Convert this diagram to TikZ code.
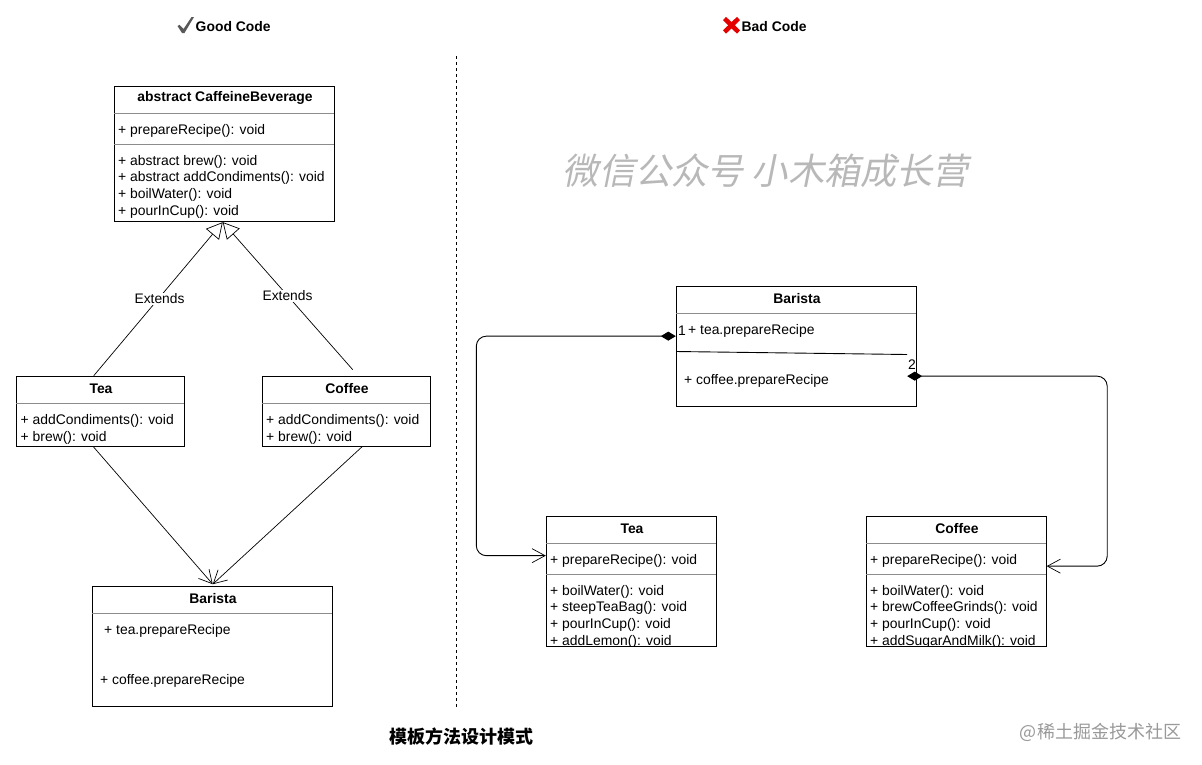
\documentclass[tikz,border=0pt]{standalone}
\usepackage{fontspec}
\setmainfont{Liberation Sans}
\newfontfamily\cjk{Noto Sans CJK SC}
\newfontfamily\cjkslant[FakeSlant=0.2]{Noto Sans CJK SC}
\usetikzlibrary{arrows.meta}
\tikzset{
 classbox/.style={draw, line width=0.9pt, anchor=north west, inner sep=0pt, xshift=-0.7pt, yshift=0.3pt},
 sepline/.style={draw=black!45, line width=0.9pt, xshift=-0.7pt},
 headtext/.style={font=\fontsize{13.9}{15}\bfseries\selectfont, inner sep=0pt, yshift=-0.4pt},
 rowtext/.style={font=\fontsize{13.9}{15}\selectfont, anchor=west, inner sep=0pt, yshift=-2pt},
 linktext/.style={font=\fontsize{13.8}{15}\selectfont, fill=white, inner sep=1.2pt, yshift=-0.8pt},
 inherit/.style={line width=0.7pt, -{Triangle[length=16pt,width=17pt,fill=white]}},
 uses/.style={line width=0.7pt, -{Straight Barb[length=13pt,width=14pt]}},
 owns/.style={line width=0.9pt, rounded corners=10pt, {Diamond[length=15pt,width=9pt]}-{Straight Barb[length=13pt,width=14pt,line width=0.7pt]}}
}
\begin{document}
\begin{tikzpicture}[x=1pt,y=-1pt]
 \useasboundingbox (0,0) rectangle (1202,764);
 % headings
 \fill[black!65] (177.5,26) -- (179.5,24.8) -- (183.5,29) -- (191.5,17) -- (194,17) -- (184.5,33) -- (182,33) -- cycle;
 \node[headtext, anchor=west] (goodhead) at (195.5,26) {Good Code};
 \draw[red!90!black, line width=4.5pt] (724.5,18.5) -- (738.5,32) (738.5,18.5) -- (724.5,32);
 \node[headtext, anchor=west] (badhead) at (741.5,26) {Bad Code};
 \draw[dashed, line width=0.7pt] (456.5,56) -- (456.5,707);
 \node[text=black!28, font=\fontsize{36.2}{38}\cjkslant\selectfont] (mark) at (766,171) {微信公众号 小木箱成长营};
 \node[font=\fontsize{18}{20}\cjk\bfseries\selectfont] (caption) at (461,736.5) {模板方法设计模式};
 \node[text=black!40, font=\fontsize{18}{20}\cjk\selectfont] (site) at (1100.5,732) {@稀土掘金技术社区};

 % good code, left side
 \node[classbox, minimum width=220pt, minimum height=135.5pt] (cafbox) at (114.5,86) {};
 \draw[sepline] (114.5,113.5) -- (334.5,113.5) (114.5,144.5) -- (334.5,144.5);
 \node[headtext] (cafhead) at (225,98) {abstract CaffeineBeverage};
 \node[rowtext] (cafprep) at (118,129) {+ prepareRecipe(): void};
 \node[rowtext] (cafbrew) at (118,160) {+ abstract brew(): void};
 \node[rowtext] (cafcond) at (118,176) {+ abstract addCondiments(): void};
 \node[rowtext] (cafboil) at (118,193) {+ boilWater(): void};
 \node[rowtext] (cafpour) at (118,210) {+ pourInCup(): void};

 \node[classbox, minimum width=168pt, minimum height=70pt] (teabox) at (17,376) {};
 \draw[sepline] (17,403) -- (185,403);
 \node[headtext] (teahead) at (101,388) {Tea};
 \node[rowtext] (teacond) at (20.5,419) {+ addCondiments(): void};
 \node[rowtext] (teabrew) at (20.5,436) {+ brew(): void};

 \node[classbox, minimum width=168pt, minimum height=70pt] (cofbox) at (262.5,376) {};
 \draw[sepline] (262.5,403) -- (430.5,403);
 \node[headtext] (cofhead) at (347,388) {Coffee};
 \node[rowtext] (cofcond) at (266,419) {+ addCondiments(): void};
 \node[rowtext] (cofbrew) at (266,436) {+ brew(): void};

 \node[classbox, minimum width=240pt, minimum height=120.5pt] (barbox) at (92.5,586) {};
 \draw[sepline] (92.5,613) -- (332.5,613);
 \node[headtext] (barhead) at (213,598) {Barista};
 \node[rowtext] (bartea) at (104,629) {+ tea.prepareRecipe};
 \node[rowtext] (barcof) at (100,679) {+ coffee.prepareRecipe};

 \draw[inherit] ([xshift=-7pt]teabox.north) -- ([xshift=-1.5pt]cafbox.south);
 \draw[inherit] ([xshift=6.5pt,yshift=6pt]cofbox.north) -- ([xshift=-1.5pt]cafbox.south);
 \node[linktext] (extone) at (159.5,298) {Extends};
 \node[linktext] (exttwo) at (287.5,295) {Extends};
 \draw[uses] ([xshift=-7.5pt]teabox.south) -- ([xshift=0.5pt,yshift=1.5pt]barbox.north);
 \draw[uses] ([xshift=16pt]cofbox.south) -- ([xshift=0.5pt,yshift=1.5pt]barbox.north);

 % bad code, right side
 \node[classbox, minimum width=240pt, minimum height=119.5pt] (mainbox) at (676.5,286.5) {};
 \draw[sepline] (676.5,313.5) -- (916.5,313.5);
 \draw[line width=0.9pt] (676,351.5) -- (907,354.5);
 \node[headtext] (mainhead) at (797,298) {Barista};
 \node[rowtext] (mainone) at (678,329) {1};
 \node[rowtext] (maintea) at (688,329) {+ tea.prepareRecipe};
 \node[rowtext] (maincof) at (684,379) {+ coffee.prepareRecipe};
 \node[rowtext] (maintwo) at (908,362.5) {2};

 \node[classbox, minimum width=170.5pt, minimum height=130pt] (blackbox) at (546.5,516.5) {};
 \draw[sepline] (546.5,543.5) -- (717,543.5) (546.5,574.5) -- (717,574.5);
 \node[headtext] (blackhead) at (632,528) {Tea};
 \node[rowtext] (blackprep) at (550,559) {+ prepareRecipe(): void};
 \begin{scope}
  \clip (546,516.5) rectangle (716.5,646.5);
  \node[rowtext] (blackboil) at (550,590) {+ boilWater(): void};
  \node[rowtext] (blacksteep) at (550,606) {+ steepTeaBag(): void};
  \node[rowtext] (blackpour) at (550,623) {+ pourInCup(): void};
  \node[rowtext] (blacklemon) at (550,640) {+ addLemon(): void};
 \end{scope}

 \node[classbox, minimum width=180pt, minimum height=130pt] (dripbox) at (866.5,516.5) {};
 \draw[sepline] (866.5,543.5) -- (1046.5,543.5) (866.5,574.5) -- (1046.5,574.5);
 \node[headtext] (driphead) at (957,528) {Coffee};
 \node[rowtext] (dripprep) at (870,559) {+ prepareRecipe(): void};
 \begin{scope}
  \clip (866,516.5) rectangle (1046,646.5);
  \node[rowtext] (dripboil) at (870,590) {+ boilWater(): void};
  \node[rowtext] (dripgrind) at (870,606) {+ brewCoffeeGrinds(): void};
  \node[rowtext] (drippour) at (870,623) {+ pourInCup(): void};
  \node[rowtext] (dripsugar) at (870,640) {+ addSugarAndMilk(): void};
 \end{scope}

 \draw[owns] ([yshift=10.25pt]mainbox.west) -- ++(-199.5,0) -- ++(0,219.5) -- ([yshift=26pt]blackbox.west);
 \draw[owns] ([xshift=-9.5pt,yshift=-29.75pt]mainbox.east) -- ++(200,0) -- ++(0,190) -- ([yshift=15.5pt]dripbox.east);
\end{tikzpicture}
\end{document}
